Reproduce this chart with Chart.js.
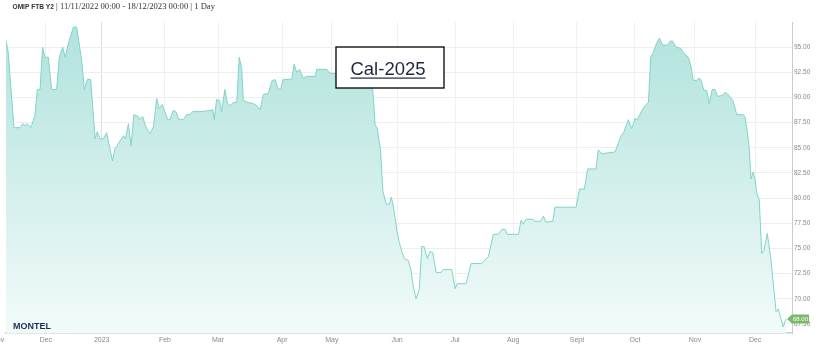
<!DOCTYPE html>
<html>
<head>
<meta charset="utf-8">
<script src="https://cdn.jsdelivr.net/npm/chart.js@4.4.1/dist/chart.umd.min.js"></script>
<style>
  html, body { margin: 0; padding: 0; background: #ffffff; }
  #wrap { width: 817px; height: 351px; position: relative; }
</style>
</head>
<body>
<div id="wrap"><canvas id="cal" width="817" height="351"></canvas></div>
<script>
// ==========================================
// OMIP FTB Y2 (Cal-2025) daily settlement
// ==========================================

// trading day counted from 11/11/2022
const tradingDay = [
  0, 0.8, 2.9, 5.1, 6.1, 6.9, 7.7, 9.0, 9.9, 10.5, 11.4, 12.4, 13.3, 14.2, 15.4, 16.6, 18.4, 19.4, 20.6, 21.5,
  22.7, 24.5, 25.7, 27.5, 28.5, 29.6, 30.8, 32.4, 33.2, 34.2, 35.4, 36.6, 37.8, 38.7, 39.6, 42.7, 43.5, 44.5, 45.5, 46.5,
  48.1, 48.7, 49.7, 50.8, 52.4, 53.6, 54.8, 55.7, 56.8, 58.8, 59.6, 60.8, 61.8, 62.9, 64.5, 65.7, 66.9, 67.9, 70.5, 74.2,
  75.2, 75.7, 76.6, 77.6, 78.4, 79.6, 80.5, 81.5, 82.7, 83.9, 84.8, 85.7, 86.3, 88.1, 89.9, 91.2, 92.4, 93.6, 95.4, 96.6,
  97.8, 99.0, 99.9, 100.8, 103.9, 104.8, 105.7, 106.7, 108.1, 109.3, 112.4, 113.0, 116.6, 117.8, 119.6, 131.0, 133.3, 133.7, 134.2, 135.0,
  135.7, 136.2, 137.0, 138.2, 139.4, 140.1, 141.1, 142.1, 143.0, 143.9, 144.8, 146.3, 147.2, 148.1, 149.1, 150.3, 151.2, 152.0, 153.2, 154.2,
  155.2, 156.4, 158.1, 159.0, 162.1, 163.3, 164.1, 167.3, 169.1, 173.0, 175.4, 177.2, 179.0, 180.3, 181.5, 182.3, 186.3, 187.3, 188.1, 189.1,
  191.5, 192.4, 194.4, 195.4, 196.3, 198.8, 199.6, 207.3, 208.5, 210.3, 211.5, 214.5, 215.4, 216.6, 221.5, 223.5, 224.7, 226.3, 227.5, 228.7,
  229.6, 231.2, 232.4, 233.6, 234.4, 235.4, 236.6, 237.6, 238.8, 240.5, 241.5, 242.4, 243.6, 245.3, 246.5, 248.1, 249.0, 249.9, 251.2, 251.7,
  252.6, 253.8, 254.8, 255.7, 256.8, 257.8, 258.8, 260.3, 261.7, 262.9, 264.3, 265.7, 267.9, 268.7, 269.3, 270.2, 270.9, 271.7, 272.4, 273.0,
  273.9, 274.8, 275.6, 276.8, 278.1, 280.0, 280.8, 282.6, 283.6
];

const price = [
  95.7, 94.5, 87.0, 87.0, 87.4, 87.2, 87.4, 87.0, 87.7, 88.2, 90.8, 90.8, 95.0, 94.0, 94.0, 90.8, 90.8, 94.0, 95.0, 94.0,
  95.4, 97.0, 97.0, 93.7, 90.8, 91.8, 91.8, 85.9, 86.6, 85.9, 85.9, 86.5, 84.9, 83.7, 84.9, 86.2, 85.9, 87.4, 85.2, 88.3,
  88.1, 87.8, 88.1, 87.1, 86.4, 87.1, 89.9, 88.9, 89.3, 87.8, 87.8, 88.7, 88.6, 87.8, 87.8, 88.3, 88.3, 88.6, 88.6, 88.7,
  88.8, 87.8, 89.8, 89.7, 88.6, 90.8, 89.4, 89.2, 89.5, 89.5, 94.0, 92.9, 89.7, 89.5, 89.4, 89.2, 88.8, 90.3, 90.4, 91.6,
  91.8, 90.8, 90.9, 91.8, 91.8, 93.3, 92.5, 92.8, 91.9, 92.1, 92.1, 92.8, 92.8, 92.4, 92.4, 92.4, 90.8, 89.6, 87.3, 86.9,
  85.6, 84.8, 80.8, 79.4, 79.4, 80.1, 78.8, 76.8, 75.6, 74.7, 74.0, 73.8, 72.9, 71.2, 70.0, 71.0, 75.2, 75.2, 74.0, 74.7,
  74.6, 72.6, 72.6, 72.9, 72.9, 71.0, 71.5, 71.5, 73.5, 73.5, 74.2, 76.4, 76.4, 76.9, 76.9, 76.4, 76.4, 77.8, 77.4, 77.9,
  77.9, 77.7, 77.7, 78.2, 77.6, 77.7, 79.1, 79.1, 80.9, 80.9, 82.9, 82.9, 84.8, 84.4, 84.6, 86.1, 86.6, 87.8, 86.9, 87.9,
  87.8, 88.7, 89.2, 89.5, 94.0, 94.5, 95.4, 95.9, 95.2, 95.2, 95.6, 95.6, 95.0, 94.9, 94.4, 94.0, 93.2, 91.7, 91.7, 91.9,
  91.8, 90.7, 90.7, 89.4, 90.8, 90.8, 90.1, 90.2, 90.5, 90.2, 89.7, 88.3, 88.3, 88.1, 87.1, 85.1, 81.9, 82.6, 81.8, 80.5,
  79.8, 74.5, 74.8, 76.5, 74.0, 68.7, 69.0, 67.2, 68.0
];

// month starts on the trading-day axis
const monthLabels = ["Dec", "2023", "Feb", "Mar", "Apr", "May", "Jun", "Jul", "Aug", "Sept", "Oct", "Nov", "Dec"];
const monthDays = [14.5, 34.8, 57.8, 77.1, 100.4, 118.5, 142.2, 163.3, 184.4, 207.6, 228.7, 250.5, 272.4];
const firstMonthLabel = "Nov";
const firstMonthDay = -2.9;

const yTicks = [67.5, 70, 72.5, 75, 77.5, 80, 82.5, 85, 87.5, 90, 92.5, 95];

const titleBold = "OMIP FTB Y2";
const titleRest = " | 11/11/2022 00:00 - 18/12/2023 00:00 | 1 Day";
const boxLabel = "Cal-2025";
const lastPrice = price[price.length - 1];

// overlays: title, logo, product box, last price badge, clipped first month label
const overlay = {
  id: "overlay",
  afterDraw(chart) {
    const ctx = chart.ctx;
    const xs = chart.scales.x;
    const ys = chart.scales.y;
    ctx.save();

    // title line
    ctx.textBaseline = "middle";
    ctx.textAlign = "left";
    ctx.fillStyle = "#333333";
    ctx.font = "bold 6.6px 'Liberation Sans', Arial, sans-serif";
    ctx.fillText(titleBold, 12.5, 7);
    const w = ctx.measureText(titleBold).width;
    ctx.font = "8.6px 'Liberation Serif', 'DejaVu Serif', serif";
    ctx.fillText(titleRest, 12.5 + w, 7);

    // clipped first month label
    ctx.font = "7px 'Liberation Sans', Arial, sans-serif";
    ctx.fillStyle = "#8a8a8a";
    ctx.textAlign = "center";
    ctx.fillText(firstMonthLabel, xs.getPixelForValue(firstMonthDay), 340);

    // MONTEL logo
    ctx.textAlign = "left";
    ctx.fillStyle = "#1d2b5c";
    ctx.font = "bold 9px 'Liberation Sans', Arial, sans-serif";
    ctx.fillText("MONTEL", 13, 326.5);

    // Cal-2025 box
    ctx.fillStyle = "#ffffff";
    ctx.fillRect(336, 47, 108, 41);
    ctx.strokeStyle = "#000000";
    ctx.lineWidth = 1.3;
    ctx.strokeRect(336, 47, 108, 41);
    ctx.fillStyle = "#1f2740";
    ctx.font = "18.5px 'Liberation Sans', Arial, sans-serif";
    ctx.textAlign = "center";
    ctx.textBaseline = "alphabetic";
    ctx.fillText(boxLabel, 388, 75);
    const tw = ctx.measureText(boxLabel).width;
    ctx.fillRect(388 - tw / 2, 77.5, tw, 1.2);

    // last price badge
    const by = ys.getPixelForValue(lastPrice);
    const bx = chart.chartArea.right - 5;
    ctx.fillStyle = "#7cb86a";
    ctx.beginPath();
    ctx.moveTo(bx, by);
    ctx.lineTo(bx + 5, by - 4.5);
    ctx.lineTo(bx + 22, by - 4.5);
    ctx.lineTo(bx + 22, by + 4.5);
    ctx.lineTo(bx + 5, by + 4.5);
    ctx.closePath();
    ctx.fill();
    ctx.fillStyle = "#ffffff";
    ctx.font = "6px 'Liberation Sans', Arial, sans-serif";
    ctx.textAlign = "left";
    ctx.textBaseline = "middle";
    ctx.fillText(lastPrice.toFixed(2), bx + 6, by + 0.5);

    ctx.restore();
  }
};

const canvas = document.getElementById("cal");
new Chart(canvas.getContext("2d"), {
  type: "line",
  data: {
    datasets: [{
      data: tradingDay.map((d, i) => ({ x: d, y: price[i] })),
      borderColor: "#7fd4cb",
      borderWidth: 1,
      pointRadius: 0,
      tension: 0,
      fill: "start",
      backgroundColor: function(context) {
        const area = context.chart.chartArea;
        if (!area) return "rgba(150,215,208,0.5)";
        const g = context.chart.ctx.createLinearGradient(0, area.top, 0, area.bottom);
        g.addColorStop(0, "#b0e2dc");
        g.addColorStop(1, "#f2fbfa");
        return g;
      }
    }]
  },
  options: {
    responsive: false,
    devicePixelRatio: 1,
    animation: false,
    layout: { padding: { left: 6, top: 22, right: 0, bottom: 0 } },
    plugins: {
      legend: { display: false },
      tooltip: { enabled: false }
    },
    scales: {
      x: {
        type: "linear",
        min: 0,
        max: 285.8,
        afterFit: scale => { scale.height = 18; },
        afterBuildTicks: scale => { scale.ticks = monthDays.map(v => ({ value: v })); },
        ticks: {
          autoSkip: false,
          maxRotation: 0,
          padding: 3,
          color: "#8a8a8a",
          font: { family: "'Liberation Sans', Arial, sans-serif", size: 7 },
          callback: (value, index) => monthLabels[index]
        },
        grid: {
          drawTicks: false,
          color: ctx => (ctx.tick && ctx.tick.value === monthDays[1]) ? "#dedede" : "#f1f1f1"
        },
        border: { color: "#cccccc", width: 1.5 }
      },
      y: {
        position: "right",
        min: 66.6,
        max: 97.5,
        afterFit: scale => { scale.width = 25; },
        afterBuildTicks: scale => { scale.ticks = yTicks.map(v => ({ value: v })); },
        ticks: {
          padding: 2,
          color: "#8a8a8a",
          font: { family: "'Liberation Sans', Arial, sans-serif", size: 6.5 },
          callback: value => Number(value).toFixed(2)
        },
        grid: { drawTicks: false, color: "#eeeeee" },
        border: { color: "#cccccc", width: 1 }
      }
    }
  },
  plugins: [overlay]
});
</script>
</body>
</html>
